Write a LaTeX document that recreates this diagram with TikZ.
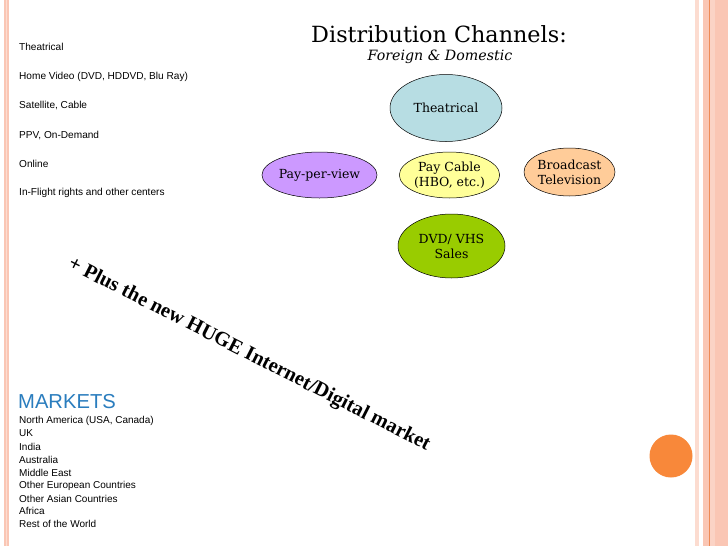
\documentclass[tikz,border=0pt]{standalone}
\usepackage{fontspec}
\setmainfont{DejaVu Serif}
\newfontfamily\arialf{Liberation Sans}
\newfontfamily\boldserif{Liberation Serif}
\usetikzlibrary{shapes.geometric}
\definecolor{barpink}{HTML}{FAC6B4}
\definecolor{barlight}{HTML}{FCDCD0}
\definecolor{barline}{HTML}{EE8A55}
\definecolor{dotorange}{HTML}{F8883A}
\definecolor{thblue}{HTML}{B7DDE3}
\definecolor{ppvviolet}{HTML}{CC99FF}
\definecolor{pcyellow}{HTML}{FFFF99}
\definecolor{bcpeach}{HTML}{FFCC99}
\definecolor{dvdgreen}{HTML}{99CC00}
\definecolor{mktblue}{HTML}{2A7DBE}
\tikzset{
  chan/.style={ellipse, draw=black, line width=0.5pt, inner sep=0pt, align=center,
    font=\fontsize{12.5}{15}\selectfont},
  leftitem/.style={anchor=west, inner sep=0pt, font=\arialf\fontsize{10.1}{12}\selectfont},
  mktitem/.style={anchor=west, inner sep=0pt, font=\arialf\fontsize{10}{12}\selectfont},
}
\begin{document}
\begin{tikzpicture}[x=1pt,y=-1pt]
\useasboundingbox (0,0) rectangle (728,546);
\fill[white] (0,0) rectangle (728,546);
% left bar
\fill[barpink] (4,0) rectangle (8.5,546);
\fill[barlight] (5.5,0) rectangle (7,546);
% right bars
\fill[barlight] (695,0) rectangle (698.5,546);
\fill[barpink] (703,0) rectangle (728,546);
\fill[barline] (708.8,0) rectangle (709.9,546);
\fill[barlight!60!barpink] (710,0) rectangle (715,546);
% orange dot
\fill[dotorange] (671,456) circle (21.5);

% title
\node[inner sep=0pt, font=\fontsize{22.3}{25}\selectfont] (title) at (439,34) {Distribution Channels:};
\node[inner sep=0pt, font=\itshape\fontsize{14.2}{16}\selectfont] (sub) at (440,57) {Foreign \& Domestic};

% channel ellipses
\node[chan, fill=thblue, minimum width=112, minimum height=67] (theat) at (446,108) {Theatrical};
\node[chan, fill=ppvviolet, minimum width=95, minimum height=46] (ppv) at (319.5,175) {Pay-per-view};
\node[chan, fill=pcyellow, minimum width=95, minimum height=46] (pcable) at (449.5,175) {Pay Cable\\(HBO, etc.)};
\node[chan, fill=bcpeach, minimum width=91, minimum height=48] (bcast) at (569.5,172) {Broadcast\\Television};
\node[chan, fill=dvdgreen, minimum width=107, minimum height=64] (dvd) at (451.5,246) {DVD/ VHS\\Sales};

% left list
\node[leftitem] (l1) at (19,47) {Theatrical};
\node[leftitem] (l2) at (19,77) {Home Video (DVD, HDDVD, Blu Ray)};
\node[leftitem] (l3) at (19,105) {Satellite, Cable};
\node[leftitem] (l4) at (19,135) {PPV, On-Demand};
\node[leftitem] (l5) at (19,164) {Online};
\node[leftitem] (l6) at (19,193) {In-Flight rights and other centers};

% rotated note
\node[inner sep=0pt, rotate=-27, font=\boldserif\bfseries\fontsize{20.5}{24}\selectfont] (note) at (249,355) {+ Plus the new HUGE Internet/Digital market};

% markets
\node[anchor=west, inner sep=0pt, text=mktblue, font=\arialf\fontsize{20.2}{23}\selectfont] (mk) at (18,402) {MARKETS};
\node[mktitem] (m1) at (19,420.5) {North America (USA, Canada)};
\node[mktitem] (m2) at (19,433.5) {UK};
\node[mktitem] (m3) at (19,446.5) {India};
\node[mktitem] (m4) at (19,459.5) {Australia};
\node[mktitem] (m5) at (19,472.5) {Middle East};
\node[mktitem] (m6) at (19,485.5) {Other European Countries};
\node[mktitem] (m7) at (19,498.5) {Other Asian Countries};
\node[mktitem] (m8) at (19,511) {Africa};
\node[mktitem] (m9) at (19,523.5) {Rest of the World};
\end{tikzpicture}
\end{document}
